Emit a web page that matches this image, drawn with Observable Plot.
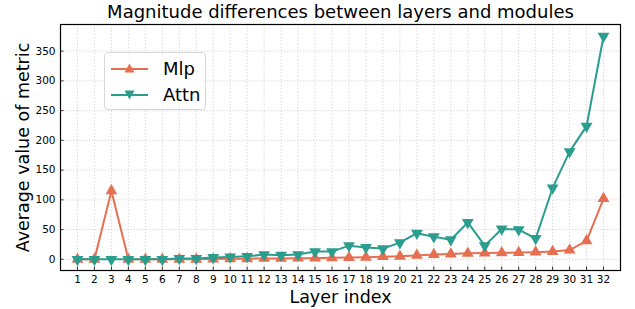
<!DOCTYPE html>
<html><head>
<meta charset="utf-8">
<script src="https://cdn.jsdelivr.net/npm/d3@7"></script>
<script src="https://cdn.jsdelivr.net/npm/@observablehq/plot@0.6"></script>
<style>
body{margin:0;background:#fff;font-family:"DejaVu Sans",sans-serif;}
#wrap{position:relative;width:635px;height:309px;}
#legend{position:absolute;left:104px;top:52px;width:100px;height:56px;border:1px solid #d8d8d8;border-radius:4px;background:rgba(255,255,255,0.85);}
.row{position:absolute;left:0;height:24px;display:flex;align-items:center;}
.row span{font-size:18px;color:#000;position:absolute;left:58px;line-height:24px;white-space:nowrap;}
</style>
</head><body>
<div id="wrap"></div>
<script>
const layers = [1,2,3,4,5,6,7,8,9,10,11,12,13,14,15,16,17,18,19,20,21,22,23,24,25,26,27,28,29,30,31,32];
const mlp  = [0,0,115,0,0,0,0,0,0.5,1,1,1.5,1.5,2,2,2.5,3,3.5,4.5,5,6.5,8,9,10,10.5,11,11.5,12,13,15.5,31,102];
const attn = [0,0,0,0,0,0,1.5,1.5,3,4,5,8,7,8,13,13,23,20,18,28,44,38,33,62,23,51,50,35,120,181,224,375];
const yTicks = [0,50,100,150,200,250,300,350];
const seriesNames = ["Mlp","Attn"];
const colors = ["#e76f51","#2a9d8f"];

const mlpData = layers.map((l,i)=>({layer:l, value:mlp[i]}));
const attnData = layers.map((l,i)=>({layer:l, value:attn[i]}));

const chart = Plot.plot({
  width:635, height:309,
  marginLeft:60, marginRight:15, marginTop:24, marginBottom:39,
  style:{fontFamily:"DejaVu Sans, sans-serif", color:"#000", background:"#fff"},
  x:{domain:[0,33]},
  y:{domain:[-18.8,394.8]},
  marks:[
    Plot.gridX(layers,{stroke:"#c8c8c8", strokeOpacity:1, strokeDasharray:"1.2,2", strokeWidth:0.8}),
    Plot.gridY(yTicks,{stroke:"#c8c8c8", strokeOpacity:1, strokeDasharray:"1.2,2", strokeWidth:0.8}),
    Plot.axisX(layers,{tickSize:-3.5, tickPadding:8.5, fontSize:10.5, label:null, tickFormat:d=>String(d), stroke:"#000", strokeWidth:0.8}),
    Plot.axisY(yTicks,{tickSize:-3.5, tickPadding:8.5, fontSize:10.5, label:null, stroke:"#000", strokeWidth:0.8}),
    Plot.line(mlpData,{x:"layer", y:"value", stroke:colors[0], strokeWidth:2}),
    Plot.dot(mlpData,{x:"layer", y:"value", symbol:"triangle", r:4.4, fill:colors[0], stroke:null}),
    Plot.line(attnData,{x:"layer", y:"value", stroke:colors[1], strokeWidth:2}),
    Plot.dot(attnData,{x:"layer", y:"value", symbol:"triangle", rotate:180, r:4.4, fill:colors[1], stroke:null}),
    Plot.frame({stroke:"#000", strokeWidth:1.2}),
    Plot.text(["Magnitude differences between layers and modules"],{frameAnchor:"top", dy:-12, lineAnchor:"middle", textAnchor:"middle", fontSize:18, fill:"#000"}),
    Plot.text(["Average value of metric"],{frameAnchor:"left", dx:-37, rotate:-90, lineAnchor:"middle", textAnchor:"middle", fontSize:17.5, fill:"#000"}),
    Plot.text(["Layer index"],{frameAnchor:"bottom", dy:27, lineAnchor:"middle", textAnchor:"middle", fontSize:17.5, fill:"#000"})
  ]
});
const wrap = document.getElementById("wrap");
wrap.appendChild(chart);

// legend
const leg = document.createElement("div");
leg.id = "legend";
seriesNames.forEach((name,i)=>{
  const row = document.createElement("div");
  row.className = "row";
  row.style.top = (4 + i*25.5) + "px";
  const pts = i===0 ? "18.5,6.5 13.5,15.5 23.5,15.5" : "18.5,16.5 13.5,7.5 23.5,7.5";
  row.innerHTML = `<svg width="50" height="24" style="position:absolute;left:0;top:0"><line x1="6" x2="43" y1="12" y2="12" stroke="${colors[i]}" stroke-width="2.2"/><polygon points="${pts}" transform="translate(6,0)" fill="${colors[i]}"/></svg><span>${name}</span>`;
  leg.appendChild(row);
});
wrap.appendChild(leg);
</script>
</body></html>
